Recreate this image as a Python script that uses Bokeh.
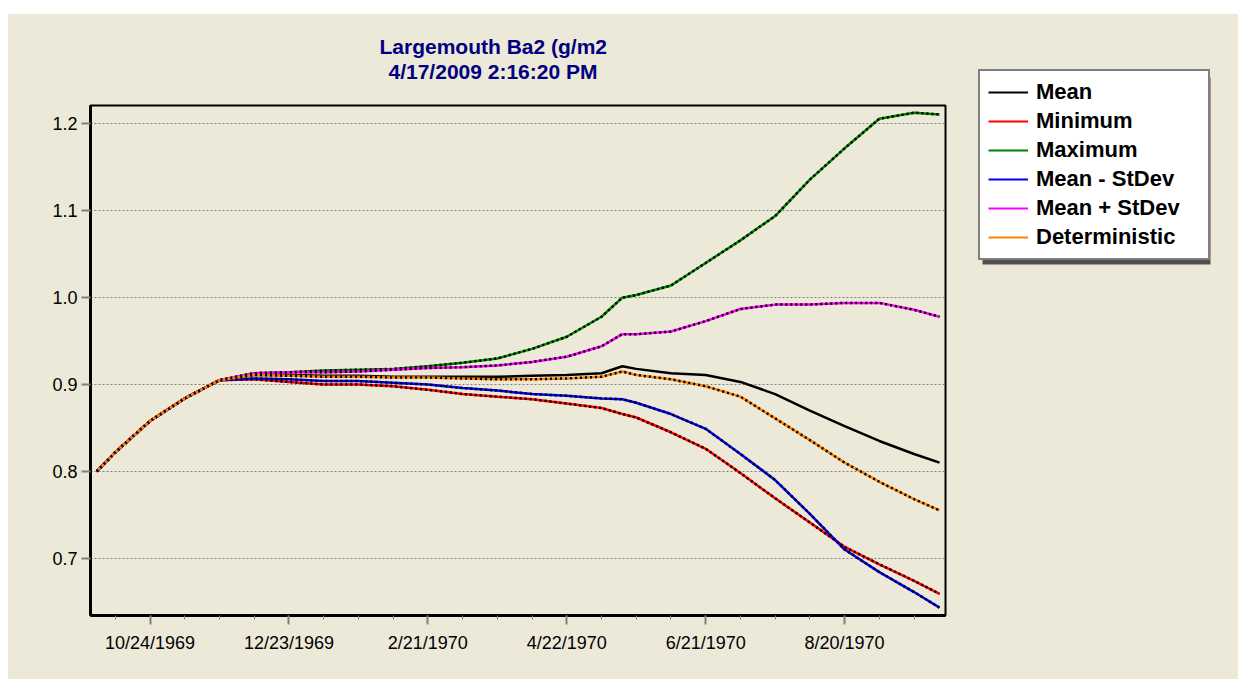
import pandas as pd
from bokeh.plotting import figure
from bokeh.models import (FixedTicker, Range1d, Legend, LegendItem, Title,
                          Spacer, PrintfTickFormatter, BoxAnnotation)
from bokeh.layouts import column, row
from bokeh.embed import file_html
from bokeh.resources import INLINE

# ---------------- data ----------------
dates = ["1969-10-01", "1969-10-09", "1969-10-24", "1969-11-08", "1969-11-23",
         "1969-12-08", "1969-12-23", "1970-01-07", "1970-01-22", "1970-02-06",
         "1970-02-21", "1970-03-08", "1970-03-23", "1970-04-07", "1970-04-22",
         "1970-05-07", "1970-05-16", "1970-05-22", "1970-06-06", "1970-06-21",
         "1970-07-06", "1970-07-21", "1970-08-05", "1970-08-20", "1970-09-04",
         "1970-09-19", "1970-09-30"]

mean = [0.800, 0.822, 0.858, 0.884, 0.905, 0.911, 0.911, 0.910, 0.910, 0.909,
        0.909, 0.909, 0.909, 0.910, 0.911, 0.913, 0.921, 0.918, 0.913, 0.911,
        0.903, 0.889, 0.870, 0.852, 0.835, 0.820, 0.810]
minimum = [0.800, 0.822, 0.858, 0.884, 0.905, 0.906, 0.903, 0.900, 0.900, 0.898,
           0.894, 0.889, 0.886, 0.883, 0.878, 0.873, 0.866, 0.862, 0.845, 0.826,
           0.798, 0.769, 0.741, 0.713, 0.693, 0.674, 0.659]
maximum = [0.800, 0.822, 0.858, 0.884, 0.905, 0.913, 0.914, 0.916, 0.917, 0.918,
           0.921, 0.925, 0.930, 0.941, 0.955, 0.978, 1.000, 1.003, 1.014, 1.040,
           1.066, 1.094, 1.136, 1.172, 1.206, 1.213, 1.211]
mean_minus_sd = [0.800, 0.822, 0.858, 0.884, 0.905, 0.907, 0.906, 0.904, 0.904, 0.902,
                 0.900, 0.896, 0.893, 0.889, 0.887, 0.884, 0.883, 0.879, 0.866, 0.849,
                 0.820, 0.790, 0.751, 0.710, 0.684, 0.661, 0.643]
mean_plus_sd = [0.800, 0.822, 0.858, 0.884, 0.905, 0.913, 0.914, 0.914, 0.915, 0.917,
                0.919, 0.920, 0.922, 0.926, 0.932, 0.944, 0.958, 0.958, 0.961, 0.973,
                0.987, 0.992, 0.992, 0.994, 0.994, 0.986, 0.978]
deterministic = [0.800, 0.822, 0.858, 0.884, 0.905, 0.911, 0.910, 0.909, 0.909, 0.908,
                 0.908, 0.907, 0.906, 0.906, 0.907, 0.909, 0.915, 0.911, 0.906, 0.898,
                 0.886, 0.861, 0.836, 0.810, 0.788, 0.768, 0.755]

series_names = ["Mean", "Minimum", "Maximum", "Mean - StDev", "Mean + StDev", "Deterministic"]
series_values = [mean, minimum, maximum, mean_minus_sd, mean_plus_sd, deterministic]
series_colors = ["#000000", "#FF0000", "#008000", "#0000FF", "#FF00FF", "#FF8000"]

x_tick_dates = ["1969-10-24", "1969-12-23", "1970-02-21", "1970-04-22", "1970-06-21", "1970-08-20"]
x_tick_labels = ["10/24/1969", "12/23/1969", "2/21/1970", "4/22/1970", "6/21/1970", "8/20/1970"]
y_ticks = [0.7, 0.8, 0.9, 1.0, 1.1, 1.2]

title_line1 = "Largemouth Ba2 (g/m2"
title_line2 = "4/17/2009 2:16:20 PM"

# ---------------- helpers ----------------
EPOCH = pd.Timestamp("1970-01-01")


def to_ms(d):
    return (pd.Timestamp(d) - EPOCH) / pd.Timedelta("1ms")


xs = [to_ms(d) for d in dates]
major_ms = [to_ms(d) for d in x_tick_dates]
minor_ms = [to_ms(d) for d in pd.date_range("1969-10-09", "1970-09-19", freq="15D")]

BG = "#ECE9D8"
FONT = "Liberation Sans"
H = 665

# ---------------- main chart ----------------
p = figure(width=952, height=H, x_axis_type="datetime", title=None,
           output_backend="svg", toolbar_location=None,
           x_range=Range1d(to_ms("1969-09-28 07:00"), to_ms("1970-10-02 14:00")),
           y_range=Range1d(0.634, 1.2213),
           min_border_left=82, min_border_right=15,
           min_border_top=91, min_border_bottom=64)
p.background_fill_color = BG
p.border_fill_color = BG
p.outline_line_color = "black"
p.outline_line_width = 2

p.xgrid.visible = False
p.ygrid.grid_line_color = "#808080"
p.ygrid.grid_line_dash = "2 2"
p.ygrid.grid_line_width = 1

p.yaxis.ticker = FixedTicker(ticks=y_ticks)
p.yaxis.formatter = PrintfTickFormatter(format="%.1f")
p.xaxis.ticker = FixedTicker(ticks=major_ms, minor_ticks=minor_ms)
p.xaxis.major_label_overrides = {m: l for m, l in zip(major_ms, x_tick_labels)}

for ax in (p.xaxis, p.yaxis):
    ax.axis_line_color = "black"
    ax.axis_line_width = 3
    ax.major_tick_line_color = "#808080"
    ax.major_tick_line_width = 2
    ax.major_tick_in = 0
    ax.major_tick_out = 9
    ax.minor_tick_line_color = "#808080"
    ax.minor_tick_line_width = 1
    ax.minor_tick_in = 0
    ax.minor_tick_out = 4
    ax.major_label_text_font = FONT
    ax.major_label_text_font_size = "18px"
    ax.major_label_text_color = "black"
p.yaxis.minor_tick_line_color = None
p.yaxis.major_label_standoff = 4
p.xaxis.major_label_standoff = 8

for name, vals, col in zip(series_names, series_values, series_colors):
    p.line(xs, vals, line_color=col, line_width=2.5)
    if col != "#000000":
        p.line(xs, vals, line_color="black", line_width=2.5, line_dash="2 3")

# title: two lines, each centred on the same point (later title sits higher)
for txt, off in ((title_line2 + "\n", 298), (title_line1, 289)):
    p.add_layout(Title(text=txt, align="left", offset=off,
                       text_font=FONT, text_font_style="bold",
                       text_font_size="21px", text_color="#000080",
                       standoff=0), "above")

# ---------------- legend panel ----------------
LW = 278
Y0 = 10000  # panel y-range sits far above the data, so key-feeding renderers stay out of view
q = figure(width=LW, height=H, output_backend="svg", toolbar_location=None,
           x_range=Range1d(0, LW), y_range=Range1d(Y0, Y0 + H),
           x_axis_location=None, y_axis_location=None, title=None,
           min_border_left=0, min_border_right=0, min_border_top=0, min_border_bottom=0)
q.background_fill_color = BG
q.border_fill_color = BG
q.outline_line_color = None
q.xgrid.visible = False
q.ygrid.visible = False

leg_items = []
for n, vals, col in zip(series_names, series_values, series_colors):
    lr = q.line(xs, vals, line_color=col, line_width=2)
    leg_items.append(LegendItem(label=n, renderers=[lr]))

LEG_W, LEG_H = 228, 187
leg_left, leg_top = 18, H - 59
q.add_layout(BoxAnnotation(left=leg_left + 4, right=leg_left + LEG_W + 4,
                           top=Y0 + leg_top - 4, bottom=Y0 + leg_top - LEG_H - 4,
                           fill_color="#505050", fill_alpha=1, line_color=None))

legend = Legend(items=leg_items, location=(leg_left, leg_top - LEG_H))
legend.border_line_color = "black"
legend.border_line_width = 2
legend.background_fill_color = "white"
legend.background_fill_alpha = 1
legend.label_text_font = FONT
legend.label_text_font_style = "bold"
legend.label_text_font_size = "22px"
legend.label_text_color = "black"
legend.glyph_width = 40
legend.glyph_height = 24
legend.label_height = 24
legend.label_width = 164
legend.label_standoff = 8
legend.spacing = 3
legend.padding = 8
legend.margin = 0
q.add_layout(legend)

chart = row(p, column(q), styles={"background-color": BG})
layout = column(Spacer(width=1238, height=14), row(Spacer(width=8, height=H), chart))
open("out.html", "w").write(file_html(layout, INLINE))
